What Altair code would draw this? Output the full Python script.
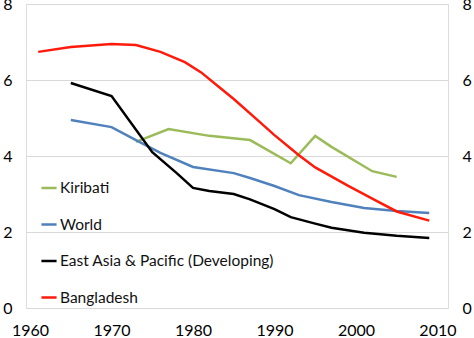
import altair as alt
import pandas as pd

# Total fertility rate (births per woman) by year
kiribati_years = [1973, 1977, 1982, 1987, 1992, 1995, 1997, 2002, 2005]
kiribati_vals = [4.37, 4.71, 4.53, 4.42, 3.81, 4.53, 4.24, 3.60, 3.45]

world_years = [1965, 1970, 1973, 1976, 1980, 1985, 1987, 1990, 1993, 1997, 2001, 2005, 2009]
world_vals = [4.95, 4.76, 4.42, 4.08, 3.71, 3.55, 3.42, 3.21, 2.97, 2.79, 2.63, 2.55, 2.50]

eap_years = [1965, 1970, 1975, 1978, 1980, 1982, 1985, 1987, 1990, 1992, 1995, 1997, 2001, 2005, 2009]
eap_vals = [5.92, 5.58, 4.10, 3.55, 3.16, 3.08, 3.00, 2.86, 2.60, 2.39, 2.22, 2.11, 1.98, 1.90, 1.84]

bgd_years = [1961, 1965, 1970, 1973, 1976, 1979, 1981, 1983, 1985, 1988, 1990, 1993, 1995, 1999, 2002, 2005, 2009]
bgd_vals = [6.74, 6.87, 6.95, 6.92, 6.74, 6.47, 6.20, 5.85, 5.50, 4.93, 4.55, 4.02, 3.70, 3.22, 2.88, 2.54, 2.30]

series_names = ["Kiribati", "World", "East Asia & Pacific (Developing)", "Bangladesh"]
series_colors = ["#9bbb59", "#4f81bd", "#000000", "#ff1a0a"]

frames = []
for name, yrs, vals in [
    (series_names[0], kiribati_years, kiribati_vals),
    (series_names[1], world_years, world_vals),
    (series_names[2], eap_years, eap_vals),
    (series_names[3], bgd_years, bgd_vals),
]:
    frames.append(pd.DataFrame({"series": name, "year": yrs, "value": vals}))
df = pd.concat(frames, ignore_index=True)

font = "Lato"

x = alt.X(
    "year:Q",
    scale=alt.Scale(domain=[1959.5, 2011.3], nice=False, zero=False),
    axis=alt.Axis(values=[1960, 1970, 1980, 1990, 2000, 2010], format="d",
                  title=None, grid=False, ticks=False, domain=False,
                  labelPadding=14, labelFontSize=16, labelColor="#000",
                  labelFont=font),
)

color = alt.Color(
    "series:N",
    scale=alt.Scale(domain=series_names, range=series_colors),
    legend=alt.Legend(
        title=None, orient="none", legendX=14, legendY=175,
        symbolType="stroke", symbolSize=230, symbolStrokeWidth=2.5,
        labelFontSize=15.5, labelFont=font, labelColor="#111",
        labelLimit=400, rowPadding=18.5, labelOffset=2, padding=0,
    ),
)

lines = alt.Chart(df).mark_line(strokeWidth=2.5).encode(
    x=x,
    y=alt.Y("value:Q", scale=alt.Scale(domain=[0, 8], nice=False),
            axis=alt.Axis(values=[0, 2, 4, 6, 8], title=None, grid=True,
                          gridColor="#d9d9d9", gridWidth=1.2, ticks=False,
                          domain=False, labelPadding=14, labelFontSize=16,
                          labelColor="#000", labelFont=font, orient="left")),
    color=color,
    detail="series:N",
)

# Mirror of the value axis on the right side
right_axis = alt.Chart(df).mark_line(opacity=0).encode(
    x=x,
    y=alt.Y("value:Q", scale=alt.Scale(domain=[0, 8], nice=False),
            axis=alt.Axis(values=[0, 2, 4, 6, 8], title=None, grid=False,
                          ticks=False, domain=False, labelPadding=14,
                          labelFontSize=16, labelColor="#000", labelFont=font,
                          orient="right")),
    detail="series:N",
)

chart = (
    alt.layer(lines, right_axis)
    .resolve_axis(y="independent")
    .properties(
        width=422, height=304,
        autosize=alt.AutoSizeParams(type="none"),
        padding={"left": 26, "top": 4, "right": 26, "bottom": 30},
    )
    .configure_view(stroke="#d9d9d9", strokeWidth=1.2)
    .configure(background="white")
)

chart.save("out.html", embed_options={"renderer": "svg", "actions": False})
